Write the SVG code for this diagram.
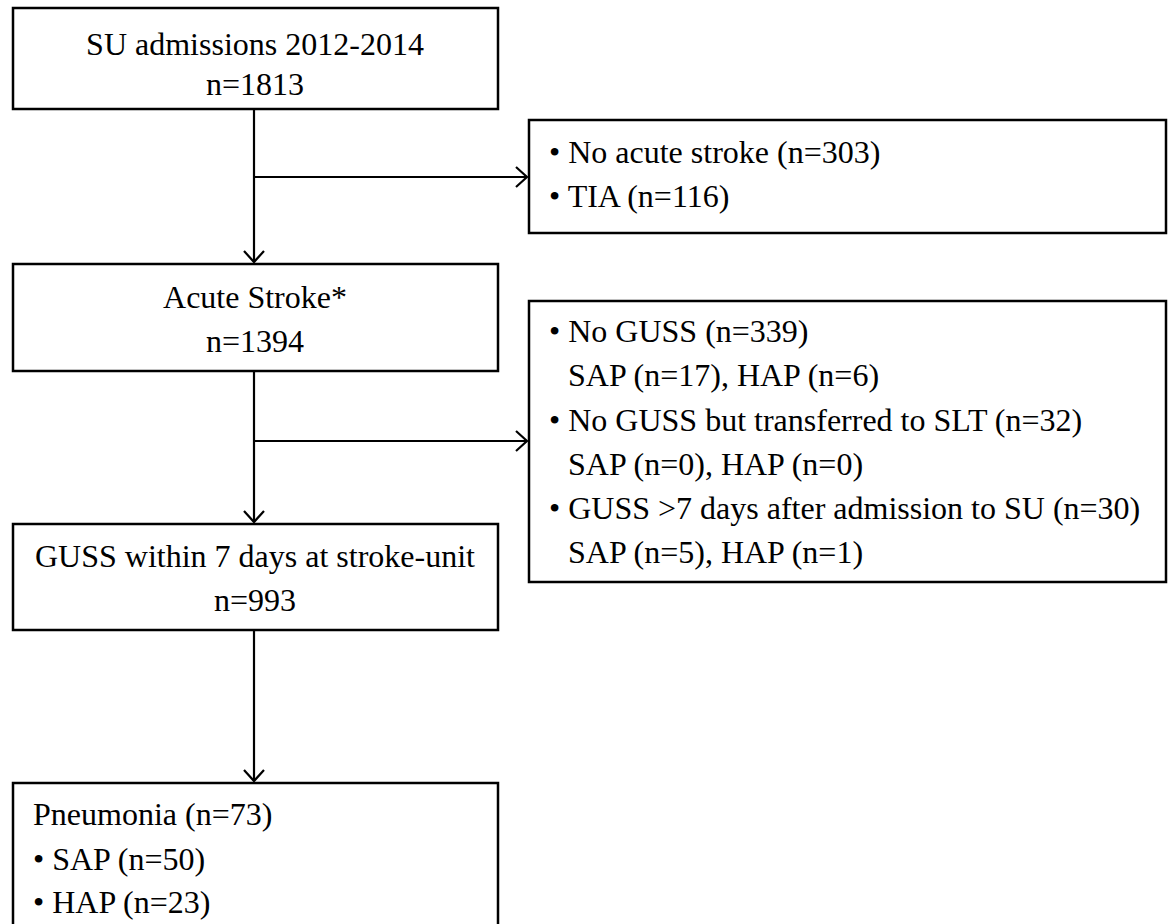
<svg xmlns="http://www.w3.org/2000/svg" width="1173" height="924" viewBox="0 0 1173 924">
<style>
.box{fill:#fff;stroke:#000;stroke-width:2.5}
.t{font-family:"Liberation Serif","Times New Roman",serif;font-size:32px;fill:#000}
.c{text-anchor:middle}
.ln{fill:none;stroke:#000;stroke-width:2.2}
</style>
<defs>
<marker id="ah" markerWidth="14" markerHeight="24" refX="12" refY="12" orient="auto" markerUnits="userSpaceOnUse">
<path d="M1,2 L12,12 L1,22" fill="none" stroke="#000" stroke-width="2.2"/>
</marker>
</defs>
<rect width="1173" height="924" fill="#fff"/>
<g id="connectors">
<line class="ln" x1="254" y1="109" x2="254" y2="262" marker-end="url(#ah)"/>
<line class="ln" x1="254" y1="177" x2="527" y2="177" marker-end="url(#ah)"/>
<line class="ln" x1="254" y1="371" x2="254" y2="522" marker-end="url(#ah)"/>
<line class="ln" x1="254" y1="441" x2="527" y2="441" marker-end="url(#ah)"/>
<line class="ln" x1="254" y1="630" x2="254" y2="781" marker-end="url(#ah)"/>
</g>
<g id="n1">
<rect class="box" x="13" y="8" width="485" height="101"/>
<text class="t c" x="255" y="55">SU admissions 2012-2014</text>
<text class="t c" x="255" y="95">n=1813</text>
</g>
<g id="n2">
<rect class="box" x="529" y="120" width="637" height="113"/>
<text class="t" x="549" y="163">• No acute stroke (n=303)</text>
<text class="t" x="549" y="207">• TIA (n=116)</text>
</g>
<g id="n3">
<rect class="box" x="13" y="264" width="485" height="107"/>
<text class="t c" x="255" y="308">Acute Stroke*</text>
<text class="t c" x="255" y="352">n=1394</text>
</g>
<g id="n4">
<rect class="box" x="529" y="301" width="637" height="281"/>
<text class="t" x="549" y="342">• No GUSS (n=339)</text>
<text class="t" x="568" y="386">SAP (n=17), HAP (n=6)</text>
<text class="t" x="549" y="431">• No GUSS but transferred to SLT (n=32)</text>
<text class="t" x="568" y="475">SAP (n=0), HAP (n=0)</text>
<text class="t" x="549" y="519">• GUSS &gt;7 days after admission to SU (n=30)</text>
<text class="t" x="568" y="563">SAP (n=5), HAP (n=1)</text>
</g>
<g id="n5">
<rect class="box" x="13" y="524" width="485" height="106"/>
<text class="t c" x="255" y="567">GUSS within 7 days at stroke-unit</text>
<text class="t c" x="255" y="611">n=993</text>
</g>
<g id="n6">
<rect class="box" x="13" y="783" width="485" height="160"/>
<text class="t" x="33" y="825">Pneumonia (n=73)</text>
<text class="t" x="33" y="870">• SAP (n=50)</text>
<text class="t" x="33" y="913">• HAP (n=23)</text>
</g>
</svg>
